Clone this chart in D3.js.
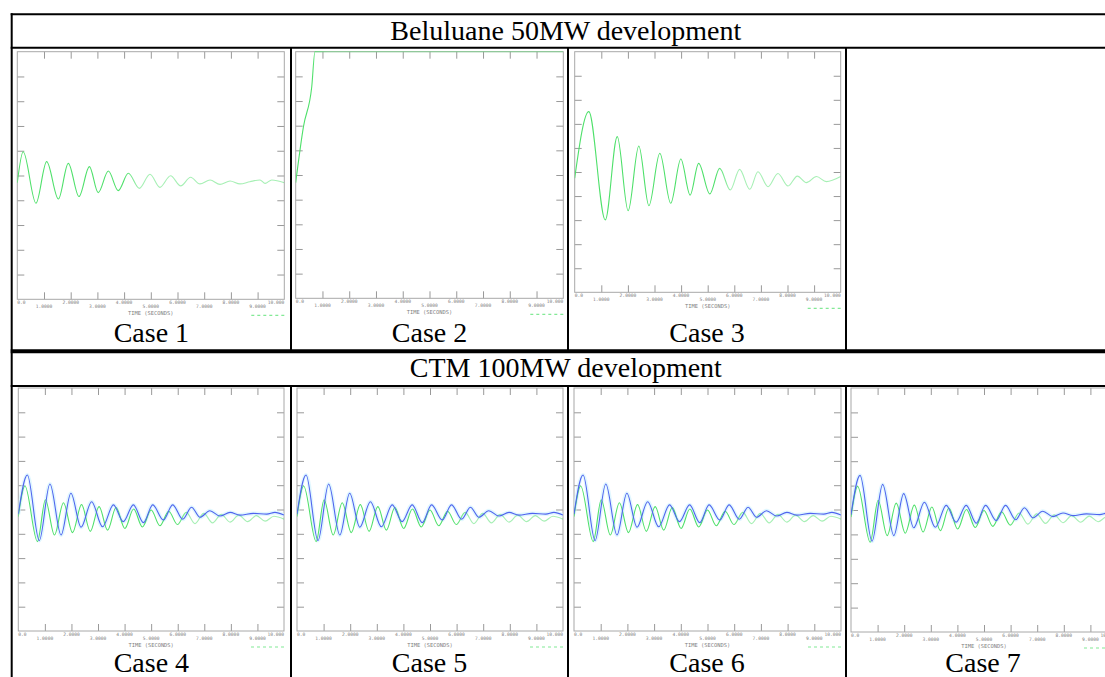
<!DOCTYPE html>
<html>
<head>
<meta charset="utf-8">
<script src="https://cdn.jsdelivr.net/npm/d3@7"></script>
<style>
body { margin: 0; background: #fff; }
svg { display: block; }
.hdr, .cap { font-family: "Liberation Serif", "Times New Roman", serif; font-size: 28px; fill: #000; }
.tk { font-family: "DejaVu Sans Mono", monospace; font-size: 4.6px; fill: #808080; }
.ttl { font-family: "DejaVu Sans Mono", monospace; font-size: 5.4px; fill: #808080; }
</style>
</head>
<body>
<svg id="chart" width="1105" height="677"></svg>
<script>
// section titles and case captions
let sections = ['Beluluane 50MW development', 'CTM 100MW development']
let cases = ['Case 1', 'Case 2', 'Case 3', 'Case 4', 'Case 5', 'Case 6', 'Case 7']

// time axis (seconds) and its printed labels
let time_ticks = [0, 1, 2, 3, 4, 5, 6, 7, 8, 9, 10]
let time_labels = ['0.0', '1.0000', '2.0000', '3.0000', '4.0000', '5.0000',
                   '6.0000', '7.0000', '8.0000', '9.0000', '10.000']
let value_ticks = [1, 2, 3, 4, 5, 6, 7, 8, 9]

// traces, [time s, value in plot divisions]
let case1_green = [[0, 4.71], [0.22, 5.96], [0.70, 3.88], [1.10, 5.56], [1.54, 4.05], [1.91, 5.49],
    [2.31, 4.15], [2.70, 5.36], [3.03, 4.31], [3.41, 5.18], [3.78, 4.39], [4.16, 5.09],
    [4.57, 4.48], [4.97, 5.05], [5.34, 4.52], [5.74, 4.99], [6.12, 4.58], [6.49, 4.93],
    [6.84, 4.66], [7.22, 4.82], [7.59, 4.64], [7.97, 4.78], [8.34, 4.66], [8.71, 4.75],
    [9.09, 4.82], [9.28, 4.68], [9.53, 4.82], [10, 4.71]]

let case2_green = [[0, 4.69], [0.29, 6.96], [0.60, 8.58], [0.72, 10], [10, 10]]

let case3_green = [[0, 4.74], [0.53, 7.51], [1.15, 3.01], [1.60, 6.47], [2.01, 3.39], [2.41, 6.08],
    [2.79, 3.60], [3.20, 5.78], [3.61, 3.70], [3.99, 5.54], [4.34, 4.04], [4.66, 5.36],
    [5.08, 4.09], [5.45, 5.15], [5.85, 4.25], [6.20, 5.11], [6.58, 4.28], [6.89, 5.01],
    [7.27, 4.39], [7.64, 4.94], [8.02, 4.42], [8.37, 4.83], [8.71, 4.56], [9.09, 4.81],
    [9.46, 4.60], [10, 4.81]]

let case4_blue = [[0, 4.81], [0.34, 6.42], [0.79, 3.72], [1.19, 6.05], [1.61, 3.95], [1.98, 5.67],
    [2.36, 4.27], [2.76, 5.32], [3.17, 4.29], [3.58, 5.19], [3.95, 4.50], [4.33, 5.19],
    [4.71, 4.46], [5.06, 5.19], [5.46, 4.57], [5.81, 5.19], [6.19, 4.60], [6.52, 5.09],
    [6.84, 4.68], [7.21, 4.95], [7.59, 4.73], [7.97, 4.88], [8.34, 4.77], [8.85, 4.84],
    [9.35, 4.81], [9.66, 4.88], [10, 4.77]]
let case4_green = [[0, 4.71], [0.25, 5.97], [0.72, 3.68], [1.02, 5.40], [1.36, 3.95], [1.70, 5.28],
    [2.04, 4.05], [2.38, 5.20], [2.71, 4.10], [3.04, 5.12], [3.36, 4.15], [3.68, 5.08],
    [4.01, 4.22], [4.34, 5.02], [4.67, 4.28], [5.00, 4.98], [5.33, 4.33], [5.66, 4.93],
    [5.99, 4.38], [6.32, 4.88], [6.65, 4.42], [6.98, 4.84], [7.31, 4.45], [7.64, 4.80],
    [7.97, 4.48], [8.30, 4.77], [8.63, 4.50], [8.96, 4.75], [9.29, 4.52], [9.62, 4.72], [10, 4.60]]

let case5_blue = case4_blue
let case5_green = case4_green
let case6_blue = case4_blue
let case6_green = case4_green
let case7_blue = case4_blue
let case7_green = case4_green

let green = '#4ee06a'
let blue = '#4f63ee'

let traces = [
    [{ d: case1_green, c: green }],
    [{ d: case2_green, c: green }],
    [{ d: case3_green, c: green }],
    [{ d: case4_green, c: green }, { d: case4_blue, c: blue }],
    [{ d: case5_green, c: green }, { d: case5_blue, c: blue }],
    [{ d: case6_green, c: green }, { d: case6_blue, c: blue }],
    [{ d: case7_green, c: green }, { d: case7_blue, c: blue }]
]
// time where the scanned green trace turns pale
let fade_from = [4.3, 0.9, 5.6, 6.2, 6.2, 6.2, 6.2]

// table geometry
let tbl = { l: 11.7, r: 1120, cols: [11.7, 291, 568, 846, 1120] }
let rows = { h1: [14.3, 47.7], r1: [47.7, 351.3], h2: [351.3, 386], r2: [386, 720] }

// plot frames inside the cells
let frames = [
    { x0: 17.3, x1: 284.3, y0: 51.7, y1: 299.3 },
    { x0: 295.7, x1: 563.3, y0: 51.7, y1: 298.3 },
    { x0: 574.7, x1: 840.7, y0: 51.7, y1: 292.3 },
    { x0: 18.3, x1: 284, y0: 388, y1: 631 },
    { x0: 297, x1: 563, y0: 388, y1: 631 },
    { x0: 574, x1: 841, y0: 388, y1: 631 },
    { x0: 851, x1: 1117, y0: 388, y1: 632 }
]
let cap_y = [342, 342, 342, 672, 672, 672, 672]

let svg = d3.select('#chart')
let defs = svg.append('defs')

// ---- plots ----
frames.forEach((f, i) => {
    let x = d3.scaleLinear().domain([0, 10]).range([f.x0, f.x1])
    let y = d3.scaleLinear().domain([0, 10]).range([f.y1, f.y0])
    let g = svg.append('g').attr('class', 'plot')

    defs.append('clipPath').attr('id', 'clip' + i)
        .append('rect').attr('x', f.x0).attr('y', f.y0 - 1)
        .attr('width', f.x1 - f.x0).attr('height', f.y1 - f.y0 + 1)

    let grad = defs.append('linearGradient').attr('id', 'fade' + i)
        .attr('gradientUnits', 'userSpaceOnUse')
        .attr('x1', x(fade_from[i] - 0.3)).attr('x2', x(fade_from[i] + 0.3))
        .attr('y1', 0).attr('y2', 0)
    grad.append('stop').attr('offset', 0).attr('stop-color', green).attr('stop-opacity', 1)
    grad.append('stop').attr('offset', 1).attr('stop-color', green).attr('stop-opacity', 0.5)

    let axes = [
        [d3.axisTop(x).tickValues(time_ticks.slice(1, -1)), f.y0, 'y'],
        [d3.axisBottom(x).tickValues(time_ticks.slice(1, -1)), f.y1, 'y'],
        [d3.axisLeft(y).tickValues(value_ticks), f.x0, 'x'],
        [d3.axisRight(y).tickValues(value_ticks), f.x1, 'x']
    ]
    axes.forEach(([ax, pos, dir]) => {
        let a = g.append('g')
            .attr('transform', dir === 'y' ? `translate(0,${pos})` : `translate(${pos},0)`)
            .call(ax.tickSizeInner(-7).tickSizeOuter(0).tickFormat(''))
        a.select('.domain').remove()
        a.selectAll('line').attr('stroke', '#999').attr('stroke-width', 1)
    })

    g.append('rect')
        .attr('x', f.x0).attr('y', f.y0)
        .attr('width', f.x1 - f.x0).attr('height', f.y1 - f.y0)
        .attr('fill', 'none').attr('stroke', '#a8a8a8').attr('stroke-width', 1)

    // staggered tick labels
    g.selectAll('text.tk').data(time_ticks).enter()
        .append('text').attr('class', 'tk')
        .attr('x', d => x(d))
        .attr('y', (d, k) => f.y1 + (k % 2 ? 9 : 5))
        .attr('text-anchor', (d, k) => k === 0 ? 'start' : (k === time_ticks.length - 1 ? 'end' : 'middle'))
        .text((d, k) => time_labels[k])

    g.append('text').attr('class', 'ttl')
        .attr('x', (f.x0 + f.x1) / 2).attr('y', f.y1 + 16)
        .attr('text-anchor', 'middle')
        .text('TIME  (SECONDS)')

    g.append('line')
        .attr('x1', f.x1 - 33).attr('x2', f.x1)
        .attr('y1', f.y1 + 16).attr('y2', f.y1 + 16)
        .attr('stroke', green).attr('stroke-width', 1.2).attr('stroke-opacity', 0.7)
        .attr('stroke-dasharray', '3,3')

    let line = d3.line()
        .x(d => x(d[0]))
        .y(d => y(d[1]))
        .curve(d3.curveMonotoneX)

    let lines = g.append('g').attr('clip-path', `url(#clip${i})`)
    traces[i].forEach(s => {
        if (s.c === blue)
            lines.append('path').attr('d', line(s.d))
                .attr('fill', 'none').attr('stroke', '#cdf2ff')
                .attr('stroke-width', 4).attr('stroke-opacity', 0.6)
    })
    traces[i].forEach(s => {
        lines.append('path').attr('d', line(s.d))
            .attr('fill', 'none')
            .attr('stroke', s.c === green ? `url(#fade${i})` : s.c)
            .attr('stroke-width', 1.1)
    })

    let col = i < 3 ? i : i - 3
    svg.append('text').attr('class', 'cap')
        .attr('x', (tbl.cols[col] + tbl.cols[col + 1]) / 2)
        .attr('y', cap_y[i])
        .attr('text-anchor', 'middle')
        .text(cases[i])
})

// ---- table rules ----
let rules = svg.append('g').attr('stroke', '#000')
let hline = (yy, w) => rules.append('line').attr('x1', tbl.l - 1).attr('x2', tbl.r)
    .attr('y1', yy).attr('y2', yy).attr('stroke-width', w)
let vline = (xx, a, b, w) => rules.append('line').attr('x1', xx).attr('x2', xx)
    .attr('y1', a).attr('y2', b).attr('stroke-width', w)

hline(rows.h1[0], 2)
hline(rows.h1[1], 2)
hline(rows.h2[0], 4)
hline(rows.h2[1], 2)
vline(tbl.l, rows.h1[0] - 1, 677, 2)
tbl.cols.slice(1, 4).forEach(c => {
    vline(c, rows.r1[0], rows.r1[1], 2)
    vline(c, rows.r2[0], 677, 2)
})

svg.selectAll('text.hdr').data(sections).enter()
    .append('text').attr('class', 'hdr')
    .attr('x', (tbl.l + tbl.r) / 2)
    .attr('y', (d, k) => k === 0 ? 40 : 377)
    .attr('text-anchor', 'middle')
    .text(d => d)
</script>
</body>
</html>
